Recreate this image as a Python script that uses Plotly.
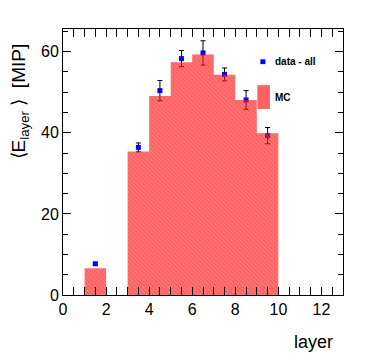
import plotly.graph_objects as go

# layer bins and values
bin_edges = [1, 2, 3, 4, 5, 6, 7, 8, 9, 10]
mc_energy = [6.6, 0, 35.4, 49.1, 57.4, 59.3, 54.3, 48.1, 39.9]

data_layers = [1.5, 3.5, 4.5, 5.5, 6.5, 7.5, 8.5, 9.5]
data_energy = [7.7, 36.4, 50.4, 58.3, 59.7, 54.4, 48.1, 39.3]
data_err = [0.3, 1.1, 2.5, 2.0, 3.0, 1.6, 2.3, 2.0]

x_ticks = [0, 2, 4, 6, 8, 10, 12]
y_ticks = [0, 20, 40, 60]

FONT = "Liberation Sans"
Y_MAX = 65.6
MC_RED = 'rgba(255,0,0,0.62)'

fig = go.Figure()

# data points (drawn underneath the semi-transparent MC fill, like ROOT)
fig.add_trace(go.Scatter(
    x=data_layers,
    y=data_energy,
    mode='markers',
    name='data - all',
    marker=dict(symbol='square', size=5, color='#0000ff'),
    error_y=dict(type='data', array=data_err, color='black', thickness=1, width=2.5),
    showlegend=False,
))

# MC histogram as a filled step curve on an overlaying axis, so it sits above the points
fig.add_trace(go.Scatter(
    x=bin_edges,
    y=mc_energy + [mc_energy[-1]],
    mode='lines',
    line=dict(shape='hv', width=0, color='rgba(0,0,0,0)'),
    fill='tozeroy',
    fillcolor=MC_RED,
    fillpattern=dict(shape='\\', fillmode='overlay', fgcolor='white',
                     fgopacity=0.2, size=3, solidity=0.3),
    name='MC',
    yaxis='y2',
    showlegend=False,
))

axis_common = dict(
    showline=True, linecolor='black', linewidth=1, mirror='allticks',
    ticks='inside', tickcolor='black', ticklen=8, showgrid=False, zeroline=False,
    tickfont=dict(family=FONT, size=16, color='black'),
)

# the page body adds an 8px margin, so the figure is 8px smaller than the window
fig.update_layout(
    width=366, height=353,
    margin=dict(l=55, r=31, t=21, b=66),
    paper_bgcolor='white', plot_bgcolor='white',
    xaxis=dict(range=[0, 13], tickvals=x_ticks,
               minor=dict(dtick=0.5, ticks='inside', ticklen=4, tickcolor='black'),
               **axis_common),
    yaxis=dict(range=[0, Y_MAX], tickvals=y_ticks,
               minor=dict(dtick=5, ticks='inside', ticklen=5, tickcolor='black'),
               **axis_common),
    yaxis2=dict(range=[0, Y_MAX], overlaying='y', visible=False),
    showlegend=False,
)

# legend box (ROOT TLegend with white background)
fig.add_shape(type='rect', xref='paper', yref='paper', x0=0.6925, x1=0.95, y0=0.669, y1=0.94,
              fillcolor='white', line=dict(width=0), layer='above')
fig.add_shape(type='rect', xref='paper', yref='paper', x0=0.705, x1=0.723, y0=0.868, y1=0.886,
              fillcolor='#0000ff', line=dict(width=0), layer='above')
fig.add_shape(type='rect', xref='paper', yref='paper', x0=0.694, x1=0.739, y0=0.699, y1=0.789,
              fillcolor=MC_RED, line=dict(width=0), layer='above')
fig.add_annotation(text='<b>data - all</b>', xref='paper', yref='paper', x=0.749, y=0.877,
                   xanchor='left', yanchor='middle', showarrow=False,
                   font=dict(family=FONT, size=10, color='black'))
fig.add_annotation(text='<b>MC</b>', xref='paper', yref='paper', x=0.749, y=0.743,
                   xanchor='left', yanchor='middle', showarrow=False,
                   font=dict(family=FONT, size=10, color='black'))

# axis titles, placed at the end of the axes as ROOT does
fig.add_annotation(text='\u27e8E<sub>layer</sub> \u27e9  [MIP]', xref='paper', yref='paper',
                   x=-0.155, y=0.726, textangle=-90, xanchor='center', yanchor='middle',
                   showarrow=False, font=dict(family=FONT, size=19, color='black'))
fig.add_annotation(text='layer', xref='paper', yref='paper', x=0.971, y=-0.177,
                   xanchor='right', yanchor='middle', showarrow=False,
                   font=dict(family=FONT, size=18, color='black'))

fig.write_html("out.html")
